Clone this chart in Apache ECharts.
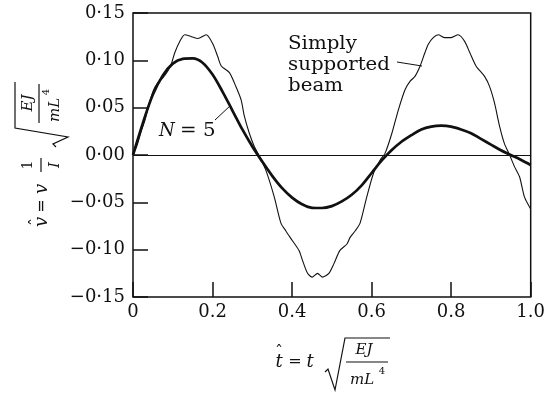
<!DOCTYPE html>
<html>
<head>
<meta charset="utf-8">
<script src="https://cdn.jsdelivr.net/npm/echarts@6/dist/echarts.min.js"></script>
<style>
  html, body { margin: 0; background: #fff; }
  #main { width: 548px; height: 394px; }
</style>
</head>
<body>
<div id="main"></div>
<script>
// tick labels
const xTickLabels = ['0', '0.2', '0.4', '0.6', '0.8', '1.0']
const yTickLabels = ['−0·15', '−0·10', '−0·05', '0·00', '0·05', '0·10', '0·15']

// N = 5 (thick curve), read every 0.025
const tN5 = [0, 0.025, 0.05, 0.075, 0.1, 0.125, 0.15, 0.175, 0.2, 0.225, 0.25, 0.275, 0.3, 0.325, 0.35, 0.375, 0.4,
  0.425, 0.45, 0.475, 0.5, 0.525, 0.55, 0.575, 0.6, 0.625, 0.65, 0.675, 0.7, 0.725, 0.75, 0.775, 0.8, 0.825,
  0.85, 0.875, 0.9, 0.925, 0.95, 0.975, 1.0]
const vN5 = [0, 0.034, 0.064, 0.084, 0.0965, 0.1015, 0.102, 0.0975, 0.085, 0.067, 0.047, 0.027, 0.009, -0.007, -0.022, -0.035, -0.045,
  -0.052, -0.0558, -0.056, -0.054, -0.049, -0.042, -0.032, -0.019, -0.006, 0.005, 0.014, 0.021, 0.027, 0.030, 0.031, 0.030, 0.027,
  0.023, 0.017, 0.011, 0.005, 0, -0.005, -0.0106]

// simply supported beam (thin curve)
const tBeam = [0, 0.01, 0.02, 0.03, 0.04, 0.051, 0.062, 0.076, 0.088, 0.097, 0.105, 0.1175, 0.13, 0.147, 0.163, 0.184,
  0.20, 0.213, 0.222, 0.2425, 0.259, 0.272, 0.28, 0.2925, 0.305, 0.3175, 0.334, 0.355, 0.372, 0.384, 0.40, 0.4175,
  0.426, 0.439, 0.451, 0.464, 0.476, 0.4925, 0.505, 0.52, 0.538, 0.546, 0.559, 0.571, 0.588, 0.605, 0.622, 0.634,
  0.651, 0.6675, 0.684, 0.697, 0.709, 0.722, 0.734, 0.7425, 0.755, 0.7675, 0.784, 0.80, 0.8175, 0.834, 0.847, 0.8625,
  0.884, 0.897, 0.909, 0.922, 0.934, 0.947, 0.959, 0.972, 0.984, 0.997, 1.0]
const vBeam = [0, 0.010, 0.024, 0.037, 0.053, 0.068, 0.076, 0.082, 0.089, 0.097, 0.108, 0.120, 0.127, 0.125, 0.123, 0.127,
  0.118, 0.104, 0.094, 0.087, 0.072, 0.058, 0.041, 0.023, 0.009, -0.001, -0.016, -0.044, -0.072, -0.080, -0.090, -0.101,
  -0.111, -0.125, -0.129, -0.125, -0.129, -0.125, -0.115, -0.101, -0.094, -0.087, -0.080, -0.072, -0.044, -0.019, -0.005, 0.002,
  0.023, 0.048, 0.069, 0.078, 0.083, 0.094, 0.108, 0.117, 0.124, 0.127, 0.124, 0.124, 0.127, 0.120, 0.108, 0.094,
  0.083, 0.072, 0.055, 0.030, 0.012, 0, -0.012, -0.023, -0.044, -0.055, -0.057]

const zip = (xs, ys) => xs.map((x, i) => [x, ys[i]])

const serif = '"DejaVu Serif", "Liberation Serif", serif'
const ink = '#111'

function txt(x, y, text, size, italic, align, sx) {
  return {
    type: 'text', x: x, y: y, scaleX: sx || 1,
    style: {
      text: text,
      font: (italic ? 'italic ' : '') + size + 'px ' + serif,
      fill: ink,
      textAlign: align || 'center',
      textVerticalAlign: 'middle'
    }
  }
}
function seg(x1, y1, x2, y2, w) {
  return { type: 'line', shape: { x1: x1, y1: y1, x2: x2, y2: y2 }, style: { stroke: ink, lineWidth: w || 1 } }
}
function radical(points) {
  return { type: 'polyline', shape: { points: points }, style: { stroke: ink, lineWidth: 1.2, fill: null } }
}

const main = document.getElementById('main')
const myChart = echarts.init(main)

myChart.setOption({
  animation: false,
  backgroundColor: '#fff',
  grid: {
    show: true, borderColor: ink, borderWidth: 1.5,
    left: 133, right: 14, top: 13, bottom: 97
  },
  xAxis: {
    type: 'value', min: 0, max: 1, interval: 0.2,
    axisLine: { show: false, onZero: false },
    axisTick: { show: true, inside: true, length: 15, lineStyle: { color: ink, width: 1.5 } },
    splitLine: { show: false },
    axisLabel: {
      margin: 6, color: ink, fontSize: 18, fontFamily: serif,
      formatter: v => xTickLabels[Math.round(v / 0.2)]
    }
  },
  yAxis: {
    type: 'value', min: -0.15, max: 0.15, interval: 0.05,
    axisLine: { show: false },
    axisTick: { show: true, inside: true, length: 15, lineStyle: { color: ink, width: 1.5 } },
    splitLine: { show: false },
    axisLabel: {
      margin: 8, color: ink, fontSize: 18, fontFamily: serif,
      formatter: v => yTickLabels[Math.round((v + 0.15) / 0.05)]
    }
  },
  series: [
    {
      name: 'Simply supported beam',
      type: 'line',
      data: zip(tBeam, vBeam),
      smooth: 0.25,
      showSymbol: false,
      lineStyle: { color: ink, width: 1.1 },
      markLine: {
        silent: true, symbol: ['none', 'none'], label: { show: false },
        lineStyle: { color: ink, width: 1.2, type: 'solid' },
        data: [{ yAxis: 0 }]
      }
    },
    {
      name: 'N = 5',
      type: 'line',
      data: zip(tN5, vN5),
      smooth: 0.33,
      showSymbol: false,
      lineStyle: { color: ink, width: 2.7 }
    }
  ],
  graphic: [
    // annotations
    txt(288, 44, 'Simply', 18, false, 'left', 1.1),
    txt(288, 65, 'supported', 18, false, 'left', 1.1),
    txt(288, 86, 'beam', 18, false, 'left', 1.1),
    seg(397, 62, 422, 66, 1),
    txt(159, 131, 'N', 18, true, 'left'),
    txt(180, 131, '= 5', 18, false, 'left', 1.1),
    seg(215, 120, 231, 105, 1),
    // x axis name
    txt(279, 353, 'ˆ', 16, false),
    txt(279, 362, 't', 18, true),
    txt(295, 362, '=', 16, false),
    txt(310, 362, 't', 18, true),
    radical([[325, 372], [328, 369], [335, 390], [345, 338], [390, 338]]),
    txt(364, 350, 'EJ', 15, true),
    seg(346, 362, 388, 362, 1.2),
    txt(362, 380, 'mL', 15, true),
    txt(382, 371, '4', 10, false),
    // y axis name (rotated)
    {
      type: 'group', x: 40, y: 150, rotation: Math.PI / 2,
      children: [
        txt(-72, -3.5, 'ˆ', 16, false),
        txt(-72, 2, 'v', 18, true),
        txt(-56, 2, '=', 16, false),
        txt(-39, 2, 'v', 18, true),
        txt(-15, -12, '1', 14, false),
        seg(-22, 1, -8, 1, 1.2),
        txt(-15, 15, 'I', 15, true),
        radical([[3, 16], [6, 13], [13, 28], [22, -25], [68, -25]]),
        txt(47, -12, 'EJ', 15, true),
        seg(27, -1, 66, -1, 1.2),
        txt(40, 15, 'mL', 15, true),
        txt(58, 6, '4', 10, false)
      ]
    }
  ]
})
</script>
</body>
</html>
